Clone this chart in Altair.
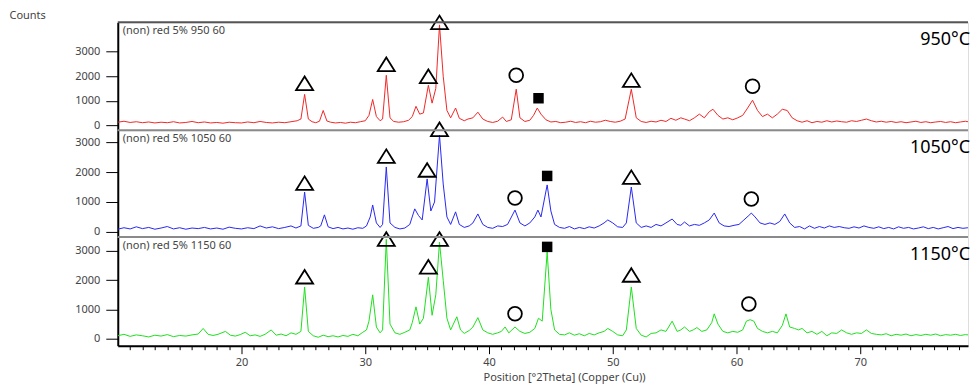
import altair as alt
import pandas as pd

# ---------------- data ----------------
theta_950 = [10.0, 10.5, 11.0, 11.5, 12.0, 12.5, 13.0, 13.5, 14.0, 14.5, 15.0, 15.5, 16.0, 16.5, 17.0, 17.5, 18.0, 18.5, 19.0, 19.5,
             20.0, 20.5, 21.0, 21.5, 22.0, 22.5, 23.0, 23.5, 24.0, 24.5, 24.8, 25.1, 25.4, 25.7, 26.0, 26.3, 26.6, 26.9, 27.2, 27.6,
             28.0, 28.4, 28.8, 29.2, 29.6, 30.0, 30.3, 30.6, 30.9, 31.2, 31.4, 31.7, 32.0, 32.3, 32.7, 33.1, 33.5, 33.8, 34.1, 34.4,
             34.7, 35.1, 35.4, 35.7, 36.0, 36.3, 36.6, 36.9, 37.3, 37.6, 38.0, 38.3, 38.7, 39.1, 39.5, 39.9, 40.3, 40.7, 41.1, 41.4,
             41.8, 42.2, 42.5, 42.9, 43.3, 43.6, 43.9, 44.2, 44.6, 45.0, 45.4, 45.8, 46.2, 46.6, 47.0, 47.4, 47.8, 48.2, 48.6, 49.0,
             49.4, 49.8, 50.2, 50.6, 51.0, 51.5, 51.9, 52.3, 52.7, 53.1, 53.5, 53.9, 54.3, 54.7, 55.1, 55.5, 55.8, 56.2, 56.6, 57.0,
             57.4, 57.8, 58.1, 58.5, 58.9, 59.3, 59.7, 60.1, 60.5, 60.9, 61.3, 61.7, 62.1, 62.5, 62.9, 63.3, 63.7, 64.1, 64.5, 64.9,
             65.3, 65.7, 66.1, 66.5, 66.9, 67.3, 67.7, 68.1, 68.5, 68.9, 69.3, 69.7, 70.1, 70.5, 70.9, 71.3, 71.7, 72.1, 72.5, 72.9,
             73.3, 73.7, 74.1, 74.5, 74.9, 75.3, 75.7, 76.1, 76.5, 76.9, 77.3, 77.7, 78.1, 78.5, 78.9, 79.3]
counts_950 = [120, 160, 110, 140, 100, 130, 90, 120, 100, 140, 90, 110, 150, 100, 130, 90, 110, 80, 120, 100,
              90, 130, 100, 150, 110, 90, 120, 100, 140, 180, 250, 1260, 250, 140, 100, 160, 600, 170, 120, 90,
              110, 80, 120, 100, 140, 180, 400, 1050, 350, 180, 250, 2040, 300, 150, 120, 140, 200, 350, 770, 450,
              500, 1630, 900, 1500, 4100, 2000, 600, 300, 700, 280, 180, 250, 300, 530, 250, 150, 110, 160, 330, 150,
              220, 1470, 300, 150, 200, 400, 700, 450, 220, 130, 150, 100, 120, 160, 110, 140, 100, 160, 120, 140,
              200, 150, 120, 160, 250, 1470, 300, 150, 110, 160, 130, 200, 150, 280, 200, 300, 250, 180, 300, 450,
              300, 550, 650, 400, 250, 300, 220, 300, 400, 700, 1020, 600, 350, 450, 300, 450, 650, 600, 300, 180,
              120, 180, 100, 150, 120, 180, 130, 170, 140, 120, 180, 150, 200, 250, 180, 130, 160, 120, 150, 110,
              140, 100, 130, 160, 110, 140, 100, 130, 150, 110, 140, 100, 130, 160, 120, 140]

theta_1050 = [10.0, 10.5, 11.0, 11.5, 12.0, 12.5, 13.0, 13.5, 14.0, 14.5, 15.0, 15.5, 16.0, 16.5, 17.0, 17.5, 18.0, 18.5, 19.0, 19.5,
              20.0, 20.5, 21.0, 21.5, 22.0, 22.5, 23.0, 23.5, 24.0, 24.4, 24.8, 25.1, 25.4, 25.8, 26.2, 26.4, 26.7, 27.0, 27.4, 27.8,
              28.2, 28.6, 29.0, 29.4, 29.8, 30.1, 30.4, 30.6, 30.9, 31.2, 31.4, 31.7, 32.0, 32.4, 32.8, 33.2, 33.6, 34.0, 34.3, 34.6,
              35.0, 35.3, 35.6, 36.0, 36.3, 36.6, 36.9, 37.3, 37.6, 38.0, 38.4, 38.7, 39.1, 39.5, 39.9, 40.3, 40.7, 41.1, 41.5, 42.1,
              42.5, 42.9, 43.3, 43.7, 43.95, 44.2, 44.7, 45.0, 45.3, 45.7, 46.1, 46.5, 46.9, 47.3, 47.7, 48.1, 48.5, 48.9, 49.3, 49.6,
              50.0, 50.4, 50.8, 51.1, 51.5, 51.9, 52.3, 52.7, 53.1, 53.5, 53.9, 54.3, 54.8, 55.2, 55.5, 55.8, 56.2, 56.6, 57.0, 57.4,
              57.8, 58.2, 58.6, 59.0, 59.4, 59.8, 60.2, 60.6, 61.0, 61.2, 61.5, 61.9, 62.3, 62.7, 63.1, 63.5, 63.9, 64.3, 64.7, 65.1,
              65.5, 65.9, 66.3, 66.7, 67.1, 67.5, 67.9, 68.3, 68.7, 69.1, 69.5, 69.9, 70.3, 70.7, 71.1, 71.5, 71.9, 72.3, 72.7, 73.1,
              73.5, 73.9, 74.3, 74.7, 75.1, 75.5, 75.9, 76.3, 76.7, 77.1, 77.5, 77.9, 78.3, 78.7, 79.1]
counts_1050 = [90, 140, 100, 170, 110, 150, 90, 130, 180, 100, 140, 90, 130, 110, 150, 100, 130, 90, 160, 120,
               100, 140, 110, 200, 130, 170, 110, 150, 200, 130, 200, 1330, 220, 120, 150, 200, 570, 170, 110, 150,
               100, 130, 90, 140, 120, 200, 500, 900, 300, 150, 250, 2170, 300, 150, 100, 130, 250, 770, 550, 400,
               1770, 700, 1000, 3230, 1600, 500, 250, 670, 250, 150, 200, 300, 600, 250, 150, 120, 200, 180, 250, 730,
               300, 200, 300, 500, 730, 500, 1570, 700, 250, 150, 120, 180, 100, 150, 110, 170, 130, 200, 300, 400,
               300, 170, 150, 300, 1500, 300, 150, 200, 150, 250, 200, 300, 430, 250, 220, 330, 200, 250, 220, 300,
               400, 630, 300, 200, 180, 220, 250, 400, 550, 630, 500, 300, 250, 300, 250, 350, 600, 300, 150, 180,
               100, 200, 120, 180, 130, 200, 150, 180, 140, 120, 170, 130, 200, 150, 120, 170, 110, 150, 100, 170,
               120, 150, 100, 130, 170, 110, 150, 100, 140, 180, 110, 150, 120, 140, 110]

theta_1150 = [10.0, 10.5, 11.0, 11.5, 12.0, 12.5, 13.0, 13.5, 14.0, 14.5, 15.0, 15.5, 16.0, 16.5, 16.9, 17.3, 17.7, 18.1, 18.7, 19.1,
              19.5, 19.9, 20.3, 20.7, 21.1, 21.5, 21.9, 22.4, 22.8, 23.2, 23.6, 24.0, 24.4, 24.8, 25.1, 25.4, 25.8, 26.2, 26.6, 27.0,
              27.4, 27.8, 28.2, 28.6, 29.0, 29.4, 29.8, 30.1, 30.3, 30.6, 30.9, 31.2, 31.4, 31.7, 32.0, 32.4, 32.8, 33.2, 33.6, 33.8,
              34.1, 34.4, 34.7, 35.1, 35.4, 35.7, 36.0, 36.3, 36.6, 36.9, 37.4, 37.7, 38.0, 38.4, 38.7, 39.1, 39.5, 39.9, 40.3, 40.7,
              41.0, 41.3, 41.6, 42.1, 42.5, 42.9, 43.3, 43.7, 44.0, 44.3, 44.7, 45.0, 45.3, 45.7, 46.1, 46.5, 46.9, 47.3, 47.7, 48.1,
              48.5, 48.9, 49.3, 49.6, 50.0, 50.4, 50.8, 51.1, 51.5, 51.9, 52.3, 52.7, 53.1, 53.5, 53.9, 54.3, 54.8, 55.2, 55.5, 55.8,
              56.2, 56.5, 56.8, 57.2, 57.6, 58.0, 58.2, 58.5, 58.9, 59.3, 59.7, 60.1, 60.5, 60.8, 61.1, 61.4, 61.7, 62.1, 62.5, 62.9,
              63.3, 63.7, 64.0, 64.3, 64.7, 65.0, 65.3, 65.7, 66.1, 66.5, 66.9, 67.3, 67.7, 68.1, 68.5, 68.9, 69.3, 69.7, 70.1, 70.5,
              70.9, 71.3, 71.7, 72.1, 72.5, 72.9, 73.3, 73.7, 74.1, 74.5, 74.9, 75.3, 75.7, 76.1, 76.5, 76.9, 77.3, 77.7, 78.1, 78.5,
              78.9]
counts_1150 = [100, 150, 80, 130, 100, 60, 120, 90, 140, 70, 110, 90, 130, 160, 350, 150, 110, 150, 250, 120,
               90, 140, 220, 100, 130, 80, 150, 300, 120, 160, 100, 200, 150, 250, 1770, 250, 100, 50, 120, 70,
               100, 60, 110, 80, 150, 100, 220, 300, 600, 1500, 400, 200, 300, 3400, 500, 200, 150, 220, 300, 550,
               1090, 500, 700, 2100, 800, 1500, 3300, 2000, 700, 300, 750, 300, 180, 280, 400, 720, 300, 200, 150, 200,
               250, 400, 200, 400, 250, 180, 220, 350, 700, 600, 2970, 1000, 300, 150, 130, 200, 120, 170, 100, 180,
               130, 200, 250, 350, 250, 130, 100, 300, 1770, 350, 120, 60, 180, 200, 300, 250, 600, 250, 300, 400,
               250, 300, 380, 250, 300, 550, 850, 500, 250, 200, 250, 220, 300, 600, 650, 600, 350, 250, 200, 250,
               200, 450, 850, 400, 350, 300, 350, 200, 250, 150, 250, 100, 200, 180, 300, 200, 150, 200, 180, 300,
               180, 150, 130, 170, 100, 150, 120, 160, 100, 140, 110, 150, 120, 160, 100, 140, 120, 150, 110, 140,
               120]

# phase markers: triangle, circle, filled square
mark_kind = ["tri", "tri", "tri", "tri", "circ", "sq", "tri", "circ"]
mark_theta_950 = [25.1, 31.7, 35.1, 36.0, 42.2, 44.0, 51.5, 61.3]
mark_y_950 = [1714, 2490, 2000, 4204, 2040, 1100, 1840, 1590]
mark_theta_1050 = [25.1, 31.7, 35.0, 36.0, 42.1, 44.7, 51.5, 61.2]
mark_y_1050 = [1630, 2530, 2070, 3430, 1130, 1870, 1830, 1100]
mark_theta_1150 = [25.1, 31.7, 35.1, 36.0, 42.1, 44.7, 51.5, 61.0]
mark_y_1150 = [2120, 3410, 2460, 3410, 850, 3140, 2180, 1190]

headers = ["(non) red 5% 950 60", "(non) red 5% 1050 60", "(non) red 5% 1150 60"]
temps = ["950°C", "1050°C", "1150°C"]
y_ticks = [0, 1000, 2000, 3000]
x_ticks = list(range(11, 79))

# ---------------- layout ----------------
W = 852
X_DOMAIN = [10, 10 + W / 12.4]
FONT = "Noto Sans"
TRI = "M-1,0.8L0,-0.8L1,0.8Z"


def panel(theta, counts, mth, my, color, ydom, h, header, temp, first, last):
    line_df = pd.DataFrame({"theta": theta, "counts": counts})
    mk_df = pd.DataFrame({"theta": mth, "counts": my, "kind": mark_kind})

    if last:
        xaxis = alt.Axis(
            values=x_ticks,
            labelExpr="datum.value % 10 === 0 ? datum.label : ''",
            labelOverlap=False,
            labelFlush=False,
            tickSize={"condition": {"test": "datum.value % 10 === 0", "value": 8}, "value": 4},
            tickColor="black", domainColor="black", domainWidth=2, grid=False,
            labelColor="#444", labelFontSize=11, labelFont=FONT, labelPadding=3,
            title="Position [°2Theta] (Copper (Cu))", titleFont=FONT, titleFontSize=11,
            titleFontWeight="normal", titleColor="#444", titleAnchor="start", titleX=366,
            titlePadding=4,
        )
    else:
        xaxis = None
    x = alt.X("theta:Q", scale=alt.Scale(domain=X_DOMAIN, nice=False, zero=False), axis=xaxis)

    yaxis_kwargs = dict(
        values=y_ticks, format="d", labelOverlap=False, labelFlush=False, grid=False,
        domainColor="black", domainWidth=2,
        tickColor="black", tickSize=12, labelPadding=6, labelColor="#444",
        labelFontSize=11, labelFont=FONT,
    )
    if first:
        yaxis_kwargs.update(
            title="Counts", titleAngle=0, titleAlign="left", titleBaseline="top",
            titleX=-109, titleY=-13, titleFont=FONT, titleFontSize=11,
            titleFontWeight="normal", titleColor="#444",
        )
    else:
        yaxis_kwargs.update(title=None)
    y = alt.Y("counts:Q", scale=alt.Scale(domain=ydom, nice=False, zero=False), axis=alt.Axis(**yaxis_kwargs))

    line = alt.Chart(line_df).mark_line(color=color, strokeWidth=1, clip=True).encode(x=x, y=y)

    open_mk = alt.Chart(mk_df).transform_filter("datum.kind !== 'sq'").mark_point(
        filled=False, stroke="black", strokeWidth=1.8, opacity=1
    ).encode(
        x=x, y=y,
        shape=alt.Shape("kind:N", scale=alt.Scale(domain=["tri", "circ"], range=[TRI, "circle"]), legend=None),
        size=alt.Size("kind:N", scale=alt.Scale(domain=["tri", "circ"], range=[289, 190]), legend=None),
    )
    sq_mk = alt.Chart(mk_df).transform_filter("datum.kind === 'sq'").mark_point(
        filled=True, shape="square", color="black", size=110, opacity=1
    ).encode(x=x, y=y)

    border = alt.Chart(pd.DataFrame({"a": [0]})).mark_rule(
        color="#555" if first else "#8a8a8a", strokeWidth=2
    ).encode(x=alt.value(0), x2=alt.value(W), y=alt.value(0))

    head = alt.Chart(pd.DataFrame({"t": [header]})).mark_text(
        align="left", baseline="middle", font=FONT, fontSize=11, color="#444"
    ).encode(text="t:N", x=alt.value(5), y=alt.value(9))

    tlabel = alt.Chart(pd.DataFrame({"t": [temp]})).mark_text(
        align="right", baseline="middle", font=FONT, fontSize=18, color="black"
    ).encode(text="t:N", x=alt.value(W + 2), y=alt.value(18))

    return alt.layer(line, open_mk, sq_mk, border, head, tlabel).properties(width=W, height=h)


p1 = panel(theta_950, counts_950, mark_theta_950, mark_y_950, "#f02828", [-204, 4204], 108,
           headers[0], temps[0], True, False)
p2 = panel(theta_1050, counts_1050, mark_theta_1050, mark_y_1050, "#2828f0", [-167, 3400], 107,
           headers[1], temps[1], False, False)
p3 = panel(theta_1150, counts_1150, mark_theta_1150, mark_y_1150, "#1ee01e", [-239, 3481], 109,
           headers[2], temps[2], False, True)

chart = alt.vconcat(p1, p2, p3, spacing=0, bounds="flush").properties(
    padding={"left": 0, "top": 0, "right": 0, "bottom": 0}
).configure_view(stroke=None).configure(background="white")

chart.save("out.html", embed_options={"renderer": "svg", "actions": False})
